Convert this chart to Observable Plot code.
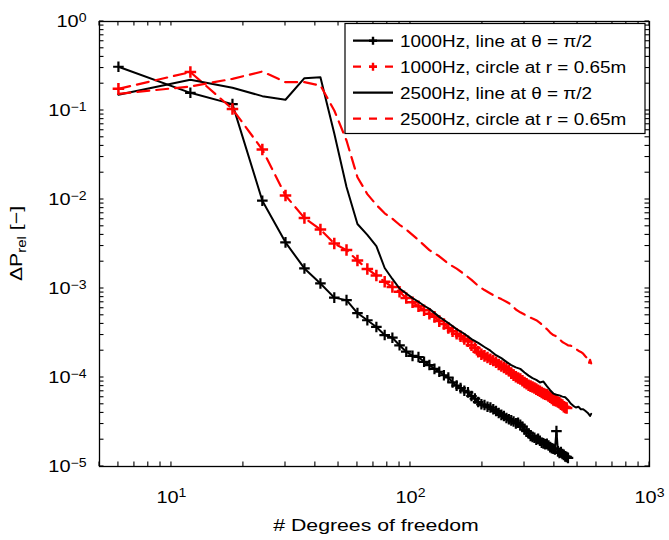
<!DOCTYPE html>
<html>
<head>
<meta charset="utf-8">
<script src="https://cdn.jsdelivr.net/npm/d3@7"></script>
<script src="https://cdn.jsdelivr.net/npm/@observablehq/plot@0.6"></script>
<style>
  html, body { margin: 0; padding: 0; background: #fff; }
  #chart { width: 669px; height: 540px; }
</style>
</head>
<body>
<div id="chart"></div>
<script>
// ---------- DATA ----------
// 1000Hz, line at θ = π/2  [degrees of freedom, ΔP_rel]
const line1000 = [
  [6,0.31],[12,0.158],[18,0.118],[24,0.0097],[30,0.0033],[36,0.00168],[42,0.00114],[48,0.00079],
  [54,0.00074],[60,0.00053],[66,0.00044],[72,0.00037],[78,0.00030],[84,0.00028],[90,0.00023],
  [96,0.000195],[102,0.000175],[108,0.00017],[114,0.00015],[120,0.000138],[126,0.000125],
  [132,0.000116],[138,0.000106],[144,0.0001],[150,0.000088],[156,0.000081],[162,0.000076],
  [168,0.000071],[174,0.000068],[180,0.000062],[186,0.000058],[192,0.000053],[198,0.00005],
  [204,0.000049],[210,0.000047],[216,0.000046],[222,0.000044],[228,0.000042],[234,0.00004],
  [240,0.000038],[246,0.000037],[252,0.000035],[258,0.000034],[264,0.000033],[270,0.000032],
  [276,0.0000305],[282,0.000031],[288,0.0000295],[294,0.000028],[300,0.000026],[306,0.000025],
  [312,0.0000235],[318,0.000022],[324,0.0000215],[330,0.000021],[336,0.00002],[342,0.0000205],
  [348,0.0000195],[354,0.0000185],[360,0.0000182],[366,0.0000178],[372,0.000018],[378,0.0000172],
  [384,0.0000165],[390,0.000016],[396,0.0000158],[402,0.0000155],[408,0.000025],[414,0.0000148],
  [420,0.0000142],[426,0.0000145],[432,0.0000138],[438,0.0000135],[444,0.000013],[450,0.0000128],
  [456,0.0000125]
];
// 1000Hz, circle at r = 0.65m
const circle1000 = [
  [6,0.175],[12,0.27],[18,0.104],[24,0.0364],[30,0.0111],[36,0.0062],[42,0.0046],[48,0.0032],
  [54,0.0027],[60,0.00206],[66,0.00166],[72,0.0014],[78,0.00119],[84,0.00104],[90,0.00092],
  [96,0.00078],[102,0.0007],[108,0.00063],[114,0.00057],[120,0.00052],[126,0.00048],[132,0.00043],
  [138,0.0004],[144,0.00036],[150,0.00033],[156,0.00031],[162,0.00029],[168,0.00027],[174,0.000255],
  [180,0.00023],[186,0.000215],[192,0.000195],[198,0.000183],[204,0.000175],[210,0.000168],
  [216,0.00016],[222,0.000155],[228,0.000148],[234,0.00014],[240,0.000135],[246,0.00013],
  [252,0.000125],[258,0.00012],[264,0.000112],[270,0.000106],[276,0.000102],[282,0.0000985],
  [288,0.000096],[294,0.000092],[300,0.000088],[306,0.000085],[312,0.000082],[318,0.00008],
  [324,0.000078],[330,0.000076],[336,0.000074],[342,0.000072],[348,0.00007],[354,0.000068],
  [360,0.000066],[366,0.000065],[372,0.000064],[378,0.000062],[384,0.00006],[390,0.000058],
  [396,0.000056],[402,0.000055],[408,0.0000545],[414,0.000053],[420,0.000052],[426,0.00005],
  [432,0.000049],[438,0.000047],[444,0.000046],[450,0.0000455]
];
// 2500Hz, line at θ = π/2
const line2500 = [
  [6,0.15],[12,0.221],[18,0.18],[24,0.145],[30,0.132],[36,0.231],[42,0.237],[48,0.055],[54,0.0138],
  [60,0.0053],[66,0.004],[72,0.003],[78,0.0017],[84,0.00128],[90,0.001],[96,0.00088],[102,0.00078],
  [108,0.00071],[114,0.00064],[120,0.00059],[132,0.00048],[144,0.00041],[156,0.00035],[168,0.00031],
  [180,0.00027],[192,0.000245],[204,0.00022],[216,0.0002],[228,0.000178],[240,0.000165],[252,0.00015],
  [264,0.000138],[276,0.00013],[288,0.000125],[300,0.000114],[312,0.000105],[324,0.0000985],
  [336,0.000094],[348,0.000088],[360,0.00009],[372,0.00008],[384,0.000072],[396,0.000066],
  [408,0.000064],[420,0.000063],[432,0.000061],[444,0.00006],[456,0.000056],[468,0.000051],
  [480,0.000048],[492,0.000046],[504,0.000047],[516,0.000044],[528,0.000044],[540,0.000042],
  [552,0.00004],[564,0.000037],[570,0.000039]
];
// 2500Hz, circle at r = 0.65m
const circle2500 = [
  [6,0.154],[12,0.186],[18,0.227],[24,0.274],[30,0.208],[36,0.208],[42,0.191],[48,0.1],[54,0.046],
  [60,0.0178],[66,0.0115],[72,0.0087],[78,0.007],[84,0.0061],[90,0.0052],[96,0.0046],[108,0.0035],
  [120,0.0027],[132,0.0023],[144,0.0019],[156,0.00167],[168,0.00145],[180,0.00125],[192,0.00107],
  [204,0.00096],[216,0.00088],[228,0.00081],[240,0.00076],[252,0.00071],[264,0.00066],[276,0.00058],
  [288,0.00054],[300,0.00051],[312,0.00048],[324,0.00046],[336,0.00044],[348,0.00041],[360,0.00038],
  [372,0.00035],[384,0.00032],[396,0.0003],[408,0.00029],[420,0.00027],[432,0.00025],[444,0.00024],
  [456,0.00023],[468,0.000228],[480,0.00022],[492,0.00021],[504,0.0002],[516,0.000194],[528,0.000185],
  [540,0.000172],[552,0.000162],[558,0.000145],[564,0.000158],[570,0.000144]
];

const seriesNames = [
  "1000Hz, line at θ = π/2",
  "1000Hz, circle at r = 0.65m",
  "2500Hz, line at θ = π/2",
  "2500Hz, circle at r = 0.65m"
];

// axis ticks
const xMajorTicks = [10, 100, 1000];
const xMinorTicks = [5,6,7,8,9,20,30,40,50,60,70,80,90,200,300,400,500,600,700,800,900];
const yMajorTicks = [1e-5, 1e-4, 1e-3, 1e-2, 1e-1, 1];
const yMinorTicks = [
  2e-5,3e-5,4e-5,5e-5,6e-5,7e-5,8e-5,9e-5,
  2e-4,3e-4,4e-4,5e-4,6e-4,7e-4,8e-4,9e-4,
  2e-3,3e-3,4e-3,5e-3,6e-3,7e-3,8e-3,9e-3,
  2e-2,3e-2,4e-2,5e-2,6e-2,7e-2,8e-2,9e-2,
  0.2,0.3,0.4,0.5,0.6,0.7,0.8,0.9
];
const xTickLabels = ["10^1", "10^2", "10^3"];
const yTickLabels = ["10^−5", "10^−4", "10^−3", "10^−2", "10^−1", "10^0"];
const xTitle = "# Degrees of freedom";

// ---------- BUILD ----------
const toRows = a => a.map(([x, y]) => ({x, y}));
const d1 = toRows(line1000), d2 = toRows(circle1000), d3s = toRows(line2500), d4 = toRows(circle2500);
const RED = "#ff0000";
const DASH = "12,7";

const xLab = new Map(xMajorTicks.map((v, i) => [v, xTickLabels[i]]));
const yLab = new Map(yMajorTicks.map((v, i) => [v, yTickLabels[i]]));

const chart = Plot.plot({
  width: 669,
  height: 540,
  marginLeft: 99,
  marginRight: 20,
  marginTop: 21,
  marginBottom: 74,
  x: {type: "log", domain: [5, 1000]},
  y: {type: "log", domain: [1e-5, 1]},
  style: {fontFamily: "'Liberation Sans', Arial, sans-serif", fontSize: "17px", color: "#000", background: "#fff"},
  marks: [
    Plot.line(d1, {x: "x", y: "y", stroke: "black", strokeWidth: 2}),
    Plot.dot(d1, {x: "x", y: "y", symbol: "plus", r: 3.5, stroke: "black", fill: "none", strokeWidth: 2.2}),
    Plot.line(d2, {x: "x", y: "y", stroke: RED, strokeWidth: 2.2, strokeDasharray: DASH}),
    Plot.dot(d2, {x: "x", y: "y", symbol: "plus", r: 3.8, stroke: RED, fill: "none", strokeWidth: 2.5}),
    Plot.line(d3s, {x: "x", y: "y", stroke: "black", strokeWidth: 2}),
    Plot.line(d4, {x: "x", y: "y", stroke: RED, strokeWidth: 2.2, strokeDasharray: DASH}),
    Plot.frame({stroke: "black", strokeWidth: 1.3}),
    // tick labels
    Plot.axisX({anchor: "bottom", ticks: xMajorTicks, tickSize: 0, tickPadding: 24, tickFormat: d => xLab.get(d), label: null, fontSize: 17}),
    Plot.axisY({anchor: "left", ticks: yMajorTicks, tickSize: 0, tickPadding: 13, tickFormat: d => yLab.get(d), label: null, fontSize: 17})
  ]
});

document.getElementById("chart").appendChild(chart);

// ---------- POST: inward ticks, superscripts, titles, legend ----------
const NS = "http://www.w3.org/2000/svg";
const svg = d3.select(chart);
const sx = chart.scale("x"), sy = chart.scale("y");
const [X0, X1] = sx.range, [Y0, Y1] = sy.range; // Y0 bottom, Y1 top
const TL = 4.5;
const tg = svg.append("g").attr("stroke", "black").attr("stroke-width", 1.1).attr("fill", "none");
xMajorTicks.concat(xMinorTicks).forEach(v => {
  const px = sx.apply(v);
  tg.append("line").attr("x1", px).attr("x2", px).attr("y1", Y0).attr("y2", Y0 - TL);
  tg.append("line").attr("x1", px).attr("x2", px).attr("y1", Y1).attr("y2", Y1 + TL);
});
yMajorTicks.concat(yMinorTicks).forEach(v => {
  const py = sy.apply(v);
  tg.append("line").attr("y1", py).attr("y2", py).attr("x1", X0).attr("x2", X0 + TL);
  tg.append("line").attr("y1", py).attr("y2", py).attr("x1", X1).attr("x2", X1 - TL);
});

svg.selectAll('g[aria-label$="tick label"] text').each(function () {
  const s = this.textContent;
  const m = s.match(/^(\d+)\^(.+)$/);
  if (!m) return;
  this.textContent = m[1];
  const t = document.createElementNS(NS, "tspan");
  t.setAttribute("dy", "-0.45em");
  t.setAttribute("font-size", "12");
  t.textContent = m[2];
  this.appendChild(t);
  const L = this.getComputedTextLength();
  if (L > 0) { this.setAttribute("textLength", (L * 1.17).toFixed(1)); this.setAttribute("lengthAdjust", "spacingAndGlyphs"); }
});

const fontFam = "'Liberation Sans', Arial, sans-serif";

// x title
const xt = svg.append("text")
  .attr("x", (X0 + X1) / 2 + 2).attr("y", 531)
  .attr("text-anchor", "middle")
  .attr("font-family", fontFam).attr("font-size", 17)
  .attr("fill", "black")
  .text(xTitle);
{
  const L = xt.node().getComputedTextLength();
  xt.attr("textLength", (L * 1.25).toFixed(1)).attr("lengthAdjust", "spacingAndGlyphs");
}

// y title  ΔP_rel [−]
const yt = svg.append("text")
  .attr("transform", `translate(22,${(Y0 + Y1) / 2}) rotate(-90)`)
  .attr("text-anchor", "middle")
  .attr("font-family", fontFam).attr("font-size", 17)
  .attr("fill", "black");
yt.append("tspan").text("ΔP");
yt.append("tspan").attr("font-size", 12).attr("dy", 4).text("rel");
yt.append("tspan").attr("dy", -4).text(" [−]");
{
  const L = yt.node().getComputedTextLength();
  yt.attr("textLength", (L * 1.25).toFixed(1)).attr("lengthAdjust", "spacingAndGlyphs");
}

// legend
const lg = svg.append("g").attr("font-family", fontFam).attr("font-size", 16).attr("text-anchor", "start");
lg.append("rect").attr("x", 345).attr("y", 23.5).attr("width", 300).attr("height", 110)
  .attr("fill", "white").attr("stroke", "black").attr("stroke-width", 1.2);
const legendStyles = [
  {stroke: "black", dash: null, marker: true},
  {stroke: RED, dash: "8,8", marker: true},
  {stroke: "black", dash: null, marker: false},
  {stroke: RED, dash: "8,8", marker: false}
];
seriesNames.forEach((name, i) => {
  const y = 40.7 + i * 26;
  const st = legendStyles[i];
  lg.append("line").attr("x1", 353).attr("x2", 393).attr("y1", y).attr("y2", y)
    .attr("stroke", st.stroke).attr("stroke-width", 2.2)
    .attr("stroke-dasharray", st.dash);
  if (st.marker) {
    lg.append("path").attr("d", `M369,${y}H377M373,${y - 4}V${y + 4}`)
      .attr("stroke", st.stroke).attr("stroke-width", 2.4).attr("fill", "none");
  }
  const t = lg.append("text").attr("x", 400).attr("y", y + 6).attr("fill", "black").text(name);
  const L = t.node().getComputedTextLength();
  t.attr("textLength", (L * 1.18).toFixed(1)).attr("lengthAdjust", "spacingAndGlyphs");
});
</script>
</body>
</html>
